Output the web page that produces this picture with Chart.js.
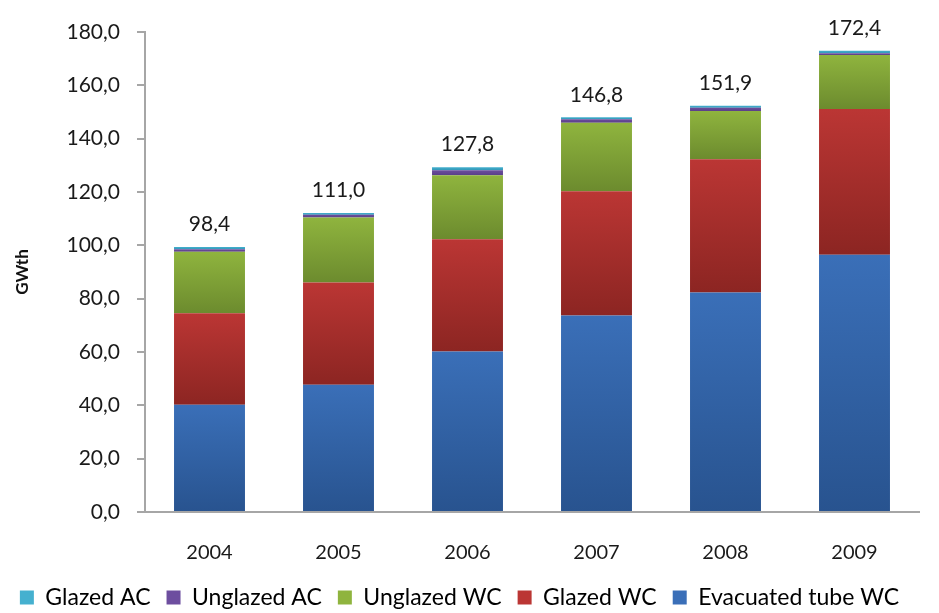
<!DOCTYPE html>
<html>
<head>
<meta charset="utf-8">
<script src="https://cdn.jsdelivr.net/npm/chart.js@4/dist/chart.umd.min.js"></script>
<style>
  html, body { margin: 0; padding: 0; background: #fff; }
  #wrap { width: 939px; height: 613px; }
</style>
</head>
<body>
<div id="wrap"><canvas id="chart"></canvas></div>
<script>
// ─── Data ─────────────────────────────────────────────
const years       = ['2004', '2005', '2006', '2007', '2008', '2009']
const evacuatedWC = [40.2, 47.7, 60.2, 73.7, 82.3, 96.5]
const glazedWC    = [34.3, 38.4, 42.1, 46.6, 50.0, 54.6]
const unglazedWC  = [23.1, 24.3, 24.0, 25.7, 18.1, 20.3]
const unglazedAC  = [0.9, 1.1, 1.9, 1.3, 1.2, 0.6]
const glazedAC    = [0.9, 0.6, 1.1, 0.7, 0.7, 1.0]
const totals      = ['98,4', '111,0', '127,8', '146,8', '151,9', '172,4']

const FONT = 'Lato, "Open Sans", sans-serif'

// bottom → top stacking order
const series = [
  { label: 'Evacuated tube WC', data: evacuatedWC, top: '#3a6fb8', bottom: '#28538f' },
  { label: 'Glazed WC',         data: glazedWC,    top: '#bb3634', bottom: '#8c2522' },
  { label: 'Unglazed WC',       data: unglazedWC,  top: '#8fb43e', bottom: '#6c8b2e' },
  { label: 'Unglazed AC',       data: unglazedAC,  top: '#6d4e9f', bottom: '#5a3f88' },
  { label: 'Glazed AC',         data: glazedAC,    top: '#45b0cf', bottom: '#3097b6' }
]

// per-segment vertical gradient
function segmentFill(s, si) {
  return (c) => {
    const chart = c.chart
    if (!chart.chartArea || c.type !== 'data') return s.top
    const y = chart.scales.y
    let base = 0
    for (let k = 0; k < si; k++) base += series[k].data[c.dataIndex]
    const y0 = y.getPixelForValue(base + s.data[c.dataIndex])
    const y1 = y.getPixelForValue(base)
    if (!isFinite(y0) || !isFinite(y1) || y0 === y1) return s.top
    const g = chart.ctx.createLinearGradient(0, y0, 0, y1)
    g.addColorStop(0, s.top)
    g.addColorStop(1, s.bottom)
    return g
  }
}

// ─── Total labels ─────────────────────────────────────
const totalLabels = {
  id: 'totalLabels',
  afterDatasetsDraw(chart) {
    const { ctx, scales: { x, y } } = chart
    ctx.save()
    ctx.font = '21px ' + FONT
    ctx.fillStyle = '#1a1a1a'
    ctx.textAlign = 'center'
    ctx.textBaseline = 'bottom'
    years.forEach((yr, i) => {
      let sum = 0
      series.forEach(s => { sum += s.data[i] })
      ctx.fillText(totals[i], x.getPixelForValue(i), y.getPixelForValue(sum) - 12)
    })
    ctx.restore()
  }
}

// push the legend a bit lower than Chart.js puts it
const LEGEND_SHIFT = 8
const legendShift = {
  id: 'legendShift',
  afterLayout(chart) {
    const lg = chart.legend
    if (!lg) return
    lg.top += LEGEND_SHIFT
    lg.bottom += LEGEND_SHIFT
    ;(lg.legendHitBoxes || []).forEach(b => { b.top += LEGEND_SHIFT })
  }
}

// ─── Chart ────────────────────────────────────────────
new Chart(document.getElementById('chart'), {
  type: 'bar',
  data: {
    labels: years,
    datasets: series.map((s, si) => ({
      label: s.label,
      data: s.data,
      backgroundColor: segmentFill(s, si),
      borderWidth: 0,
      barPercentage: 0.55,
      categoryPercentage: 1
    }))
  },
  options: {
    responsive: true,
    maintainAspectRatio: false,
    animation: false,
    layout: { padding: { top: 32, right: 20, left: 0, bottom: 2 } },
    scales: {
      x: {
        stacked: true,
        grid: { display: false, drawTicks: false },
        border: { display: true, color: '#a6a6a6', width: 2 },
        ticks: { color: '#1a1a1a', font: { family: FONT, size: 20 }, padding: 29 },
        afterFit: s => { s.height = 50 }
      },
      y: {
        stacked: true,
        min: 0,
        max: 180,
        grid: { drawOnChartArea: false, drawTicks: true, tickLength: 8, color: '#a6a6a6', lineWidth: 2 },
        border: { display: true, color: '#a6a6a6', width: 2 },
        ticks: {
          stepSize: 20,
          color: '#1a1a1a',
          padding: 17,
          font: { family: FONT, size: 21 },
          callback: v => v.toFixed(1).replace('.', ',')
        },
        title: {
          display: true,
          text: 'GWth',
          color: '#111',
          font: { family: FONT, size: 17, weight: 'bold' },
          padding: { top: 12, bottom: 4 }
        },
        afterFit: s => { s.width = 145 }
      }
    },
    plugins: {
      legend: {
        position: 'bottom',
        reverse: true,
        labels: {
          color: '#1a1a1a',
          font: { family: FONT, size: 23 },
          boxWidth: 14,
          boxHeight: 14,
          padding: 16,
          generateLabels: chart => chart.data.datasets.map((d, i) => ({
            text: d.label,
            fillStyle: series[i].top,
            strokeStyle: series[i].top,
            lineWidth: 0,
            datasetIndex: i
          }))
        }
      },
      tooltip: { enabled: false }
    }
  },
  plugins: [totalLabels, legendShift]
})
</script>
</body>
</html>
